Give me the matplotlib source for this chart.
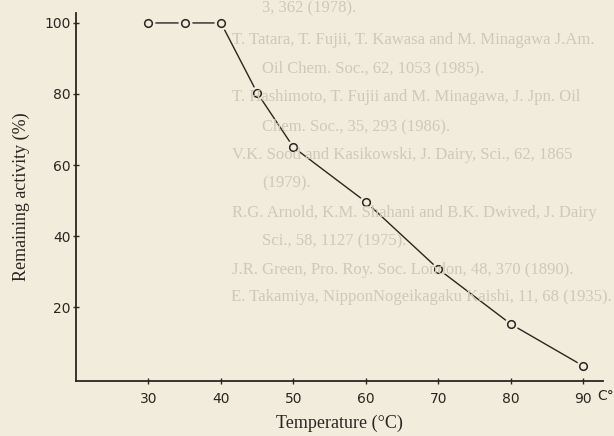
import numpy as np
from matplotlib import pyplot as plt

# data
temperature = [30, 35, 40, 45, 50, 60, 70, 80, 90]
activity = [100, 100, 100, 80.3, 65, 49.6, 30.7, 15.2, 3.4]
xticks = [30, 40, 50, 60, 70, 80, 90]
yticks = [20, 40, 60, 80, 100]

# faint text showing through from the back of the page
bleed_lines = [
    "3, 362 (1978).",
    "T. Tatara, T. Fujii, T. Kawasa and M. Minagawa J.Am.",
    "Oil Chem. Soc., 62, 1053 (1985).",
    "T. Hashimoto, T. Fujii and M. Minagawa, J. Jpn. Oil",
    "Chem. Soc., 35, 293 (1986).",
    "V.K. Sood and Kasikowski, J. Dairy, Sci., 62, 1865",
    "(1979).",
    "R.G. Arnold, K.M. Shahani and B.K. Dwived, J. Dairy",
    "Sci., 58, 1127 (1975).",
    "J.R. Green, Pro. Roy. Soc. London, 48, 370 (1890).",
    "E. Takamiya, NipponNogeikagaku Kaishi, 11, 68 (1935).",
]
bleed_x = [262, 232, 262, 232, 262, 232, 262, 232, 262, 232, 231]
bleed_y = [8, 40, 68, 97, 126, 155, 183, 213, 241, 270, 297]

paper = "#f2ecdd"
ink = "#2a2620"

W, H = 614, 436
fig = plt.figure(figsize=(W / 100, H / 100), dpi=100, facecolor=paper)

for txt, px, py in zip(bleed_lines, bleed_x, bleed_y):
    fig.text(px / W, 1 - py / H, txt, family="Liberation Serif", fontsize=12,
             color="#d0c9b9", va="center", ha="left", zorder=0)

ax = fig.add_axes([76 / W, 55 / H, 527 / W, 368 / H])
ax.patch.set_alpha(0)

ax.plot(temperature, activity, color=ink, lw=1.0, zorder=2)
# knock out the line around each marker like in the print
ax.plot(temperature, activity, ls="none", marker="o", ms=10,
        mfc=paper, mec="none", zorder=3)
ax.plot(temperature, activity, ls="none", marker="o", ms=5.5,
        mfc=paper, mec=ink, mew=1.1, zorder=4)

ax.set_xlim(20, 92.7)
ax.set_ylim(-0.8, 102.8)
ax.set_xticks(xticks)
ax.set_yticks(yticks)

for s in ["top", "right"]:
    ax.spines[s].set_visible(False)
for s in ["left", "bottom"]:
    ax.spines[s].set_color(ink)
    ax.spines[s].set_linewidth(1.3)

ax.tick_params(axis="both", direction="inout", length=4, width=1,
               colors=ink, labelsize=10)
ax.tick_params(axis="y", pad=2)
ax.tick_params(axis="x", pad=6)

ax.set_xlabel("Temperature (°C)", family="Liberation Serif", fontsize=13,
              color=ink, labelpad=6)
ax.set_ylabel("Remaining activity (%)", family="Liberation Serif",
              fontsize=13, color=ink, labelpad=10)

fig.text(597 / W, 1 - 396 / H, "C°", fontsize=10, color=ink,
         ha="left", va="center")

fig.savefig("out.png", dpi=100, facecolor=paper)
